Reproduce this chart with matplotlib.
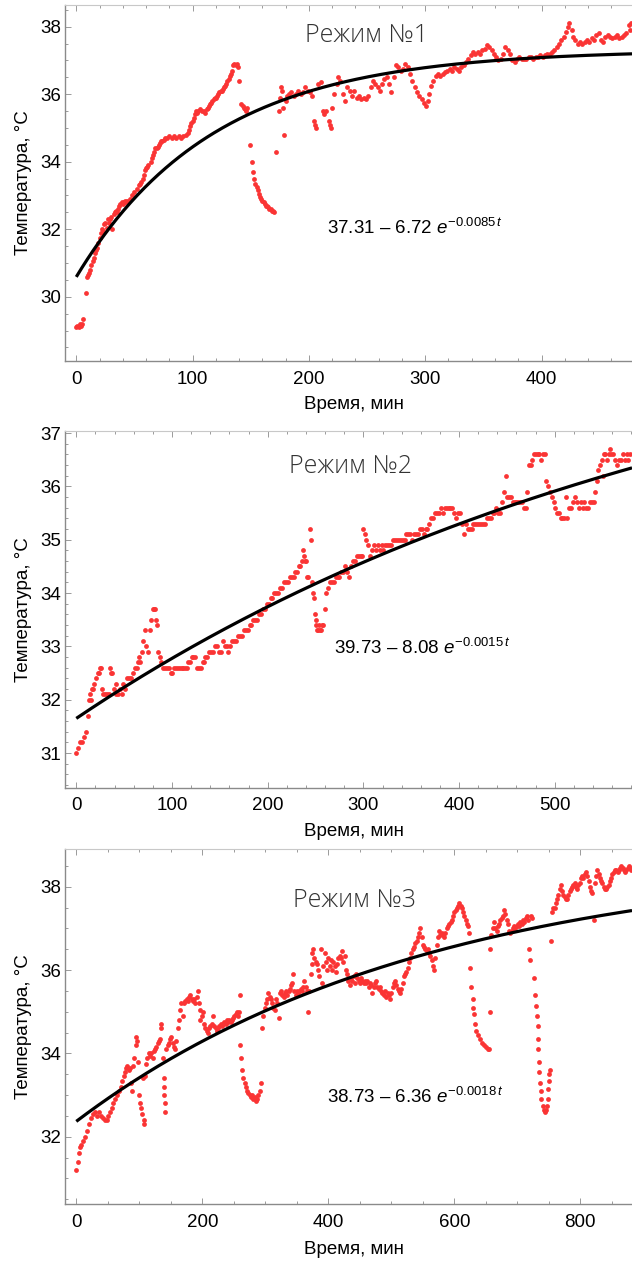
import numpy as np
import matplotlib
matplotlib.use('Agg')
import matplotlib.pyplot as plt
from matplotlib.ticker import MultipleLocator

plt.rcParams['font.family'] = ['Liberation Sans', 'DejaVu Sans']
plt.rcParams['mathtext.fontset'] = 'custom'
plt.rcParams['mathtext.rm'] = 'Liberation Sans'
plt.rcParams['mathtext.it'] = 'Liberation Sans:italic'

# ---------------- measured temperature, mode 1 ----------------
t1 = [0, 1, 2, 3, 4, 5, 6, 8, 9, 10,
      11, 12, 13, 14, 15, 16, 17, 18, 19, 20,
      21, 22, 23, 24, 25, 26, 27, 28, 29, 30,
      31, 32, 33, 34, 35, 36, 37, 38, 39, 40,
      41, 42, 43, 44, 46, 48, 50, 52, 54, 55,
      56, 57, 58, 59, 60, 61, 62, 64, 65, 66,
      67, 68, 69, 70, 71, 72, 73, 74, 75, 76,
      78, 80, 82, 84, 86, 88, 90, 92, 94, 96,
      97, 98, 99, 100, 101, 102, 103, 104, 105, 106,
      108, 110, 111, 112, 113, 114, 115, 116, 117, 118,
      119, 120, 121, 122, 123, 124, 125, 126, 127, 128,
      129, 130, 131, 132, 133, 134, 135, 136, 137, 138,
      139, 140, 142, 143, 144, 145, 146, 147, 149, 151,
      152, 153, 154, 155, 156, 157, 158, 159, 160, 161,
      162, 163, 164, 165, 166, 167, 168, 169, 170, 172,
      174, 175, 176, 177, 178, 179, 180, 181, 183, 185,
      187, 189, 191, 193, 195, 197, 199, 201, 203, 204,
      205, 206, 208, 210, 212, 213, 215, 217, 218, 219,
      220, 222, 224, 225, 227, 229, 231, 233, 235, 237,
      239, 241, 243, 245, 247, 249, 251, 253, 255, 257,
      259, 261, 263, 265, 267, 269, 271, 273, 275, 277,
      279, 281, 283, 285, 287, 289, 291, 293, 295, 297,
      299, 301, 302, 303, 305, 307, 309, 311, 313, 315,
      317, 319, 321, 323, 325, 327, 329, 331, 333, 335,
      337, 339, 341, 343, 345, 347, 349, 351, 353, 355,
      357, 359, 361, 363, 365, 367, 369, 371, 373, 375,
      377, 379, 381, 383, 385, 387, 389, 391, 393, 395,
      397, 399, 401, 403, 405, 407, 409, 411, 413, 415,
      417, 419, 421, 423, 424, 426, 427, 429, 431, 433,
      435, 437, 439, 441, 443, 445, 447, 449, 451, 453,
      455, 457, 459, 461, 463, 465, 467, 469, 471, 473,
      475, 476, 477]
temp1 = [29.1, 29.15, 29.1, 29.2, 29.15, 29.2, 29.35, 30.1, 30.6, 30.65,
         30.7, 30.8, 30.95, 31.05, 31.15, 31.3, 31.4, 31.45, 31.6, 31.75,
         31.9, 32.0, 31.95, 32.15, 32.2, 32.05, 32.3, 32.2, 32.3, 32.35,
         32.0, 32.45, 32.5, 32.55, 32.5, 32.6, 32.7, 32.75, 32.8, 32.75,
         32.8, 32.85, 32.8, 32.85, 32.9, 33.0, 33.1, 33.2, 33.3, 33.35,
         33.4, 33.5, 33.6, 33.75, 33.8, 33.85, 33.9, 34.0, 34.1, 34.2,
         34.3, 34.4, 34.4, 34.45, 34.5, 34.55, 34.6, 34.6, 34.65, 34.7,
         34.7, 34.75, 34.7, 34.75, 34.7, 34.75, 34.7, 34.75, 34.8, 34.85,
         34.95, 35.05, 35.15, 35.2, 35.3, 35.4, 35.5, 35.45, 35.5, 35.55,
         35.5, 35.5, 35.45, 35.55, 35.6, 35.65, 35.7, 35.75, 35.8, 35.85,
         35.9, 35.9, 35.95, 36.0, 36.05, 36.1, 36.1, 36.15, 36.2, 36.25,
         36.3, 36.4, 36.45, 36.55, 36.6, 36.7, 36.85, 36.9, 36.85, 36.9,
         36.8, 36.4, 35.7, 35.65, 35.6, 35.55, 35.5, 35.6, 34.5, 34.0,
         33.7, 33.5, 33.35, 33.25, 33.15, 33.05, 32.95, 32.9, 32.85, 32.8,
         32.75, 32.7, 32.68, 32.65, 32.6, 32.6, 32.55, 32.55, 32.5, 34.3,
         35.5, 35.9, 36.2, 36.1, 35.6, 34.8, 35.8, 35.95, 36.0, 36.05,
         35.95, 36.0, 36.1, 36.0, 36.05, 36.2, 36.1, 36.05, 35.95, 35.2,
         35.1, 35.0, 36.3, 36.35, 35.5, 35.4, 35.5, 35.2, 35.1, 35.0,
         35.6, 36.0, 36.3, 36.5, 36.4, 36.0, 35.8, 36.2, 36.1, 35.95,
         36.1, 35.9, 35.95, 35.85, 35.9, 35.85, 35.95, 36.2, 36.4, 36.3,
         36.2, 36.1, 36.3, 36.45, 36.5, 36.3, 36.05, 36.5, 36.85, 36.8,
         36.7, 36.75, 36.9, 36.8, 36.6, 36.4, 36.2, 36.05, 35.95, 35.85,
         35.75, 35.65, 35.8, 36.0, 36.25, 36.4, 36.55, 36.6, 36.55, 36.6,
         36.65, 36.7, 36.75, 36.7, 36.8, 36.75, 36.7, 36.8, 36.85, 36.95,
         37.05, 37.15, 37.25, 37.2, 37.25, 37.2, 37.3, 37.35, 37.45, 37.4,
         37.3, 37.2, 37.1, 37.0, 37.05, 37.2, 37.4, 37.3, 37.2, 37.0,
         36.95, 37.05, 37.1, 37.05, 37.05, 37.05, 37.1, 37.1, 37.05, 37.1,
         37.1, 37.15, 37.1, 37.15, 37.2, 37.2, 37.25, 37.3, 37.4, 37.5,
         37.6, 37.7, 37.85, 38.0, 38.1, 37.9, 37.7, 37.6, 37.5, 37.55,
         37.5, 37.55, 37.6, 37.55, 37.65, 37.6, 37.75, 37.8, 37.6, 37.55,
         37.7, 37.75, 37.7, 37.65, 37.7, 37.75, 37.65, 37.7, 37.75, 37.8,
         38.05, 37.9, 38.1]

# ---------------- measured temperature, mode 2 ----------------
t2 = [0, 2, 4, 6, 8, 10, 12, 13, 14, 15,
      16, 17, 19, 21, 23, 24, 25, 26, 27, 28,
      30, 32, 34, 35, 36, 37, 39, 41, 42, 44,
      46, 48, 49, 51, 53, 55, 57, 59, 61, 63,
      65, 66, 67, 69, 70, 72, 73, 75, 77, 78,
      80, 81, 82, 83, 84, 85, 87, 89, 91, 93,
      95, 97, 99, 100, 102, 104, 106, 108, 110, 112,
      114, 116, 117, 119, 121, 122, 124, 126, 128, 130,
      132, 133, 135, 137, 139, 141, 143, 145, 147, 149,
      151, 153, 155, 157, 159, 161, 163, 165, 167, 169,
      171, 173, 175, 177, 179, 181, 183, 185, 187, 189,
      191, 193, 195, 197, 199, 201, 203, 205, 207, 209,
      211, 213, 215, 217, 219, 221, 223, 225, 227, 229,
      231, 233, 234, 236, 237, 238, 239, 240, 241, 242,
      244, 245, 246, 247, 248, 249, 250, 251, 252, 253,
      254, 255, 256, 257, 258, 260, 261, 263, 265, 267,
      269, 271, 273, 275, 277, 279, 281, 283, 285, 287,
      289, 291, 293, 295, 297, 299, 300, 302, 303, 305,
      307, 309, 311, 313, 315, 317, 319, 321, 323, 325,
      327, 329, 331, 333, 335, 337, 339, 341, 343, 345,
      347, 349, 351, 353, 355, 357, 359, 361, 363, 365,
      367, 369, 371, 373, 375, 377, 379, 381, 383, 385,
      387, 389, 391, 393, 395, 397, 399, 401, 403, 405,
      407, 409, 411, 413, 415, 417, 419, 421, 423, 425,
      427, 429, 431, 433, 435, 437, 439, 441, 443, 445,
      447, 449, 450, 452, 454, 456, 458, 460, 462, 464,
      466, 468, 470, 471, 473, 475, 476, 478, 480, 482,
      484, 486, 488, 490, 491, 493, 495, 497, 499, 500,
      502, 504, 506, 508, 510, 512, 513, 515, 517, 519,
      521, 523, 525, 527, 529, 531, 533, 535, 537, 539,
      541, 542, 544, 545, 547, 549, 550, 551, 553, 555,
      557, 558, 559, 561, 563, 565, 567, 569, 571, 573,
      575, 577, 579]
temp2 = [31.0, 31.1, 31.2, 31.2, 31.3, 31.4, 31.7, 32.0, 32.1, 32.0,
         32.2, 32.2, 32.3, 32.4, 32.5, 32.5, 32.6, 32.6, 32.2, 32.1,
         32.1, 32.1, 32.1, 32.6, 32.5, 32.5, 32.2, 32.1, 32.3, 32.1,
         32.2, 32.1, 32.3, 32.2, 32.4, 32.4, 32.4, 32.5, 32.6, 32.6,
         32.7, 32.8, 32.7, 32.9, 33.1, 33.3, 33.0, 32.9, 33.3, 33.5,
         33.7, 33.7, 33.7, 33.5, 33.4, 32.9, 32.8, 32.7, 32.6, 32.6,
         32.6, 32.6, 32.5, 32.5, 32.6, 32.6, 32.6, 32.6, 32.6, 32.6,
         32.6, 32.6, 32.7, 32.7, 32.8, 32.8, 32.8, 32.6, 32.6, 32.6,
         32.7, 32.7, 32.8, 32.8, 32.9, 32.9, 32.9, 33.0, 33.0, 32.9,
         32.9, 33.1, 33.0, 33.0, 32.9, 33.0, 33.1, 33.1, 33.1, 33.2,
         33.2, 33.2, 33.3, 33.3, 33.3, 33.4, 33.4, 33.5, 33.5, 33.5,
         33.6, 33.6, 33.7, 33.7, 33.8, 33.8, 33.9, 33.9, 34.0, 34.0,
         34.0, 34.1, 34.1, 34.2, 34.2, 34.2, 34.3, 34.3, 34.3, 34.4,
         34.4, 34.5, 34.5, 34.6, 34.8, 34.7, 34.6, 34.6, 34.3, 34.3,
         35.2, 35.0, 34.2, 34.0, 33.9, 33.6, 33.5, 33.4, 33.3, 33.3,
         33.4, 33.3, 33.3, 33.4, 33.4, 33.7, 34.0, 34.1, 34.2, 34.2,
         34.2, 34.3, 34.3, 34.3, 34.4, 34.4, 34.5, 34.4, 34.3, 34.5,
         34.6, 34.6, 34.7, 34.7, 34.7, 34.7, 35.2, 35.1, 35.0, 34.9,
         34.7, 34.8, 34.9, 34.8, 34.9, 34.8, 34.9, 34.8, 34.9, 34.9,
         34.9, 34.9, 35.0, 35.0, 35.0, 35.0, 35.0, 35.0, 35.0, 35.1,
         35.1, 35.1, 35.0, 35.1, 35.1, 35.1, 35.2, 35.2, 35.1, 35.2,
         35.2, 35.3, 35.4, 35.4, 35.5, 35.5, 35.5, 35.6, 35.5, 35.6,
         35.6, 35.6, 35.6, 35.6, 35.5, 35.4, 35.5, 35.5, 35.3, 35.1,
         35.3, 35.2, 35.2, 35.2, 35.3, 35.3, 35.3, 35.3, 35.3, 35.3,
         35.3, 35.4, 35.4, 35.4, 35.5, 35.5, 35.6, 35.5, 35.5, 35.7,
         35.9, 36.2, 35.8, 35.8, 35.8, 35.7, 35.7, 35.7, 35.7, 35.7,
         35.7, 35.6, 35.6, 35.9, 36.4, 36.4, 36.5, 36.6, 36.6, 36.6,
         36.6, 36.5, 36.6, 36.6, 36.1, 36.0, 35.9, 35.8, 35.7, 35.6,
         35.5, 35.5, 35.4, 35.4, 35.4, 35.8, 35.4, 35.6, 35.6, 35.7,
         35.8, 35.7, 35.6, 35.7, 35.6, 35.7, 35.6, 35.6, 35.7, 35.7,
         35.7, 35.9, 36.1, 36.3, 36.4, 36.5, 36.2, 36.6, 36.6, 36.5,
         36.6, 36.7, 36.6, 36.6, 36.5, 36.4, 36.5, 36.5, 36.6, 36.5,
         36.6, 36.5, 36.6]

# ---------------- measured temperature, mode 3 ----------------
t3 = [0, 2, 4, 6, 8, 11, 14, 17, 20, 24,
      27, 30, 33, 36, 39, 42, 45, 48, 51, 54,
      56, 59, 62, 65, 68, 71, 73, 75, 77, 79,
      81, 83, 85, 87, 88, 90, 92, 94, 95, 96,
      98, 99, 101, 103, 105, 107, 108, 106, 109, 111,
      113, 115, 117, 119, 121, 123, 125, 127, 129, 131,
      133, 134, 135, 137, 139, 140, 140, 141, 141, 143,
      145, 147, 149, 151, 153, 155, 157, 159, 161, 163,
      165, 167, 169, 171, 173, 175, 177, 179, 181, 183,
      185, 187, 189, 191, 193, 195, 196, 197, 199, 201,
      203, 205, 207, 209, 211, 213, 215, 217, 219, 221,
      223, 225, 227, 229, 231, 233, 235, 237, 239, 241,
      243, 245, 247, 249, 251, 253, 255, 257, 259, 260,
      260, 262, 263, 265, 267, 269, 271, 273, 275, 277,
      279, 281, 283, 285, 287, 289, 291, 293, 294, 297,
      299, 301, 303, 305, 307, 309, 311, 313, 315, 317,
      319, 321, 323, 325, 327, 329, 331, 333, 335, 337,
      339, 341, 343, 344, 346, 348, 350, 352, 354, 356,
      358, 360, 362, 364, 366, 368, 370, 372, 374, 376,
      374, 378, 380, 382, 384, 386, 388, 390, 392, 394,
      396, 398, 400, 402, 404, 406, 408, 410, 412, 414,
      416, 418, 420, 422, 424, 426, 428, 430, 432, 434,
      436, 438, 440, 442, 444, 446, 448, 450, 452, 454,
      456, 458, 460, 462, 464, 466, 468, 470, 472, 474,
      476, 478, 480, 482, 484, 486, 488, 490, 492, 494,
      496, 498, 500, 502, 504, 506, 508, 510, 512, 514,
      516, 518, 520, 522, 524, 526, 528, 530, 532, 534,
      536, 538, 540, 542, 544, 546, 548, 550, 552, 554,
      556, 558, 560, 562, 564, 566, 568, 570, 572, 574,
      576, 578, 580, 582, 584, 586, 588, 590, 592, 594,
      596, 598, 600, 602, 604, 606, 608, 610, 612, 614,
      616, 618, 620, 622, 624, 625, 627, 629, 630, 631,
      633, 635, 638, 641, 644, 647, 650, 653, 655, 657,
      657, 659, 661, 663, 665, 667, 669, 671, 673, 675,
      677, 679, 681, 683, 685, 687, 689, 691, 693, 695,
      697, 699, 701, 703, 705, 707, 709, 711, 713, 715,
      717, 718, 720, 722, 724, 726, 728, 730, 732, 733,
      733, 733, 734, 735, 736, 737, 738, 740, 742, 744,
      745, 747, 748, 749, 750, 751, 752, 753, 755, 757,
      759, 761, 763, 765, 767, 769, 771, 773, 775, 777,
      779, 781, 783, 785, 787, 789, 791, 793, 795, 797,
      799, 801, 803, 805, 807, 809, 811, 813, 815, 817,
      819, 821, 823, 825, 827, 829, 831, 833, 835, 837,
      839, 841, 843, 845, 847, 849, 851, 853, 855, 857,
      859, 861, 863, 865, 867, 869, 871, 873, 875, 877,
      879, 881]
temp3 = [31.2, 31.4, 31.6, 31.75, 31.8, 31.9, 32.0, 32.15, 32.3, 32.45,
         32.55, 32.6, 32.5, 32.6, 32.5, 32.45, 32.4, 32.4, 32.5, 32.6,
         32.7, 32.8, 32.9, 33.0, 33.1, 33.2, 33.35, 33.45, 33.55, 33.65,
         33.7, 33.6, 33.65, 33.3, 33.1, 33.7, 33.9, 34.2, 34.4, 34.3,
         33.8, 33.0, 32.8, 32.7, 32.55, 32.4, 32.3, 33.4, 33.45, 33.75,
         33.9, 34.0, 33.95, 34.0, 33.9, 34.05, 34.1, 34.15, 34.25, 34.3,
         34.35, 34.6, 34.7, 33.9, 33.4, 33.2, 33.0, 32.8, 32.6, 34.1,
         34.2, 34.25, 34.35, 34.4, 34.25, 34.15, 34.1, 34.3, 34.6, 34.8,
         35.05, 35.2, 34.9, 35.2, 35.25, 35.3, 35.25, 35.35, 35.4, 35.3,
         35.25, 35.3, 35.2, 35.35, 35.5, 35.2, 35.05, 34.8, 34.9, 35.0,
         34.7, 34.6, 34.55, 34.5, 34.6, 34.65, 34.7, 34.9, 34.65, 34.6,
         34.55, 34.6, 34.65, 34.7, 34.65, 34.7, 34.75, 34.7, 34.8, 34.75,
         34.8, 34.75, 34.8, 34.85, 34.9, 34.95, 35.0, 34.9, 35.0, 35.4,
         34.2, 33.9, 33.6, 33.4, 33.3, 33.2, 33.1, 33.05, 33.0, 32.95,
         33.0, 32.9, 32.95, 32.85, 32.9, 33.0, 33.1, 33.3, 34.6, 34.9,
         35.1, 35.2, 35.3, 35.45, 35.35, 35.3, 35.2, 35.1, 35.05, 35.3,
         35.2, 34.85, 35.45, 35.5, 35.4, 35.35, 35.45, 35.5, 35.4, 35.5,
         35.55, 35.65, 35.7, 35.9, 35.5, 35.4, 35.5, 35.45, 35.5, 35.55,
         35.5, 35.6, 35.75, 35.6, 35.5, 35.0, 35.5, 35.9, 36.15, 36.5,
         36.4, 36.3, 36.2, 36.15, 36.0, 35.85, 36.5, 35.7, 36.1, 36.4,
         36.2, 36.0, 36.3, 36.1, 36.25, 36.0, 36.2, 36.1, 35.95, 36.15,
         36.3, 36.35, 36.3, 36.45, 36.2, 36.35, 36.0, 35.9, 35.75, 35.65,
         35.8, 35.75, 35.85, 35.7, 35.9, 35.8, 35.75, 35.7, 35.8, 35.75,
         35.7, 35.75, 35.7, 35.75, 35.6, 35.7, 35.65, 35.45, 35.6, 35.7,
         35.75, 35.6, 35.55, 35.6, 35.5, 35.45, 35.4, 35.5, 35.35, 35.45,
         35.4, 35.3, 35.45, 35.6, 35.7, 35.75, 35.65, 35.55, 35.5, 35.45,
         35.55, 35.7, 35.85, 35.9, 35.95, 36.05, 36.2, 36.3, 36.4, 36.5,
         36.55, 36.65, 36.7, 36.8, 36.9, 37.0, 36.8, 36.6, 36.55, 36.5,
         36.45, 36.5, 36.4, 36.35, 36.25, 36.1, 36.0, 36.3, 36.6, 36.8,
         36.95, 36.85, 36.9, 36.85, 36.8, 36.9, 37.0, 37.05, 37.1, 37.15,
         37.2, 37.3, 37.4, 37.45, 37.5, 37.55, 37.6, 37.55, 37.5, 37.4,
         37.3, 37.2, 37.1, 37.05, 36.9, 36.05, 35.6, 35.3, 35.1, 34.95,
         34.7, 34.55, 34.45, 34.35, 34.25, 34.2, 34.15, 34.1, 34.1, 35.0,
         36.5, 36.85, 37.0, 37.15, 37.0, 36.95, 37.05, 37.1, 37.2, 37.25,
         37.3, 37.45, 37.35, 37.2, 37.1, 36.95, 36.9, 36.95, 37.0, 37.05,
         37.0, 37.05, 37.1, 37.05, 37.15, 37.1, 37.2, 37.15, 37.25, 37.3,
         37.2, 36.5, 36.25, 37.3, 37.25, 35.8, 35.4, 35.15, 34.9, 34.65,
         34.35, 34.1, 33.8, 33.55, 33.3, 33.1, 32.9, 32.75, 32.65, 32.6,
         32.65, 32.75, 32.9, 33.15, 33.35, 33.5, 33.6, 36.7, 37.4, 37.5,
         37.5, 37.6, 37.7, 37.8, 37.95, 38.05, 37.9, 37.8, 37.75, 37.7,
         37.7, 37.8, 37.9, 37.95, 38.0, 38.05, 38.1, 38.0, 37.95, 38.05,
         38.1, 38.2, 38.25, 38.2, 38.3, 38.35, 38.25, 38.15, 38.0, 37.9,
         37.85, 37.2, 38.1, 38.25, 38.4, 38.3, 38.2, 38.15, 38.1, 38.0,
         37.95, 37.95, 38.0, 38.05, 38.15, 38.2, 38.3, 38.35, 38.4, 38.4,
         38.35, 38.4, 38.45, 38.5, 38.45, 38.4, 38.35, 38.4, 38.45, 38.5,
         38.45, 38.4]

# fitted model T(t) = a - b*exp(-k*t) for each mode
fit_a = [37.31, 39.73, 38.73]
fit_b = [6.72, 8.08, 6.36]
fit_k = [0.0085, 0.0015, 0.0018]

titles = ['Режим №1', 'Режим №2', 'Режим №3']

# ---------------- layout per panel ----------------
W, H = 632, 1261
panels = [
    dict(t=t1, temp=temp1, box=(65, 5, 632, 361), xlim=(-9.7, 477.8), ylim=(28.1, 38.64),
         xmaj=100, xmin=20, ymaj=2, ymin=0.5, xlab_y=-0.098,
         title_xy=(0.531, 0.913), eq_xy=(0.462, 0.374)),
    dict(t=t2, temp=temp2, box=(65, 431, 632, 787.7), xlim=(-11.8, 580.7), ylim=(30.35, 37.04),
         xmaj=100, xmin=20, ymaj=1, ymin=0.2, xlab_y=-0.098,
         title_xy=(0.503, 0.90), eq_xy=(0.474, 0.392)),
    dict(t=t3, temp=temp3, box=(65, 849.3, 632, 1204.3), xlim=(-17.9, 882), ylim=(30.38, 38.9),
         xmaj=200, xmin=50, ymaj=2, ymin=0.5, xlab_y=-0.104,
         title_xy=(0.51, 0.857), eq_xy=(0.462, 0.303)),
]

fig = plt.figure(figsize=(W / 100, H / 100), dpi=100)

for i, p in enumerate(panels):
    x0, y0, x1, y1 = p['box']
    ax = fig.add_axes([x0 / W, 1 - y1 / H, (x1 - x0) / W, (y1 - y0) / H])

    ax.scatter(p['t'], p['temp'], s=12, color='#fa3434', linewidths=0, zorder=2)

    a, b, k = fit_a[i], fit_b[i], fit_k[i]
    tt = np.linspace(0, p['xlim'][1], 400)
    ax.plot(tt, a - b * np.exp(-k * tt), color='black', lw=2.3, zorder=3,
            solid_capstyle='butt')

    ax.set_xlim(*p['xlim'])
    ax.set_ylim(*p['ylim'])

    ax.xaxis.set_major_locator(MultipleLocator(p['xmaj']))
    ax.xaxis.set_minor_locator(MultipleLocator(p['xmin']))
    ax.yaxis.set_major_locator(MultipleLocator(p['ymaj']))
    ax.yaxis.set_minor_locator(MultipleLocator(p['ymin']))

    ax.spines['right'].set_visible(False)
    for side in ('left', 'bottom'):
        ax.spines[side].set_color('#8a8a8a')
        ax.spines[side].set_linewidth(1.0)
    ax.spines['top'].set_color('#c8c8c8')
    ax.spines['top'].set_linewidth(0.8)

    ax.tick_params(which='both', direction='in', top=True, right=False,
                   color='#9a9a9a', width=0.7)
    ax.tick_params(which='major', length=4)
    ax.tick_params(which='minor', length=2)
    ax.tick_params(axis='x', labelsize=13.5, pad=7)
    ax.tick_params(axis='y', labelsize=13.5, pad=3)

    ax.set_xlabel('Время, мин', fontsize=13.5)
    ax.xaxis.set_label_coords(0.51, p['xlab_y'])
    ax.set_ylabel('Температура, °C', fontsize=13.5)
    ax.yaxis.set_label_coords(-0.058, 0.5)

    ax.text(*p['title_xy'], titles[i], transform=ax.transAxes, ha='center', va='center',
            fontsize=18, color='#333333', family=['Open Sans', 'DejaVu Sans'],
            fontweight='light')

    eq = f'{a:.2f} – {b:.2f} $\\mathit{{e}}^{{-{k:.4f}\\,\\mathit{{t}}}}$'
    ax.text(*p['eq_xy'], eq, transform=ax.transAxes, ha='left', va='center',
            fontsize=13.5, color='black')

fig.savefig('out.png', dpi=100)
